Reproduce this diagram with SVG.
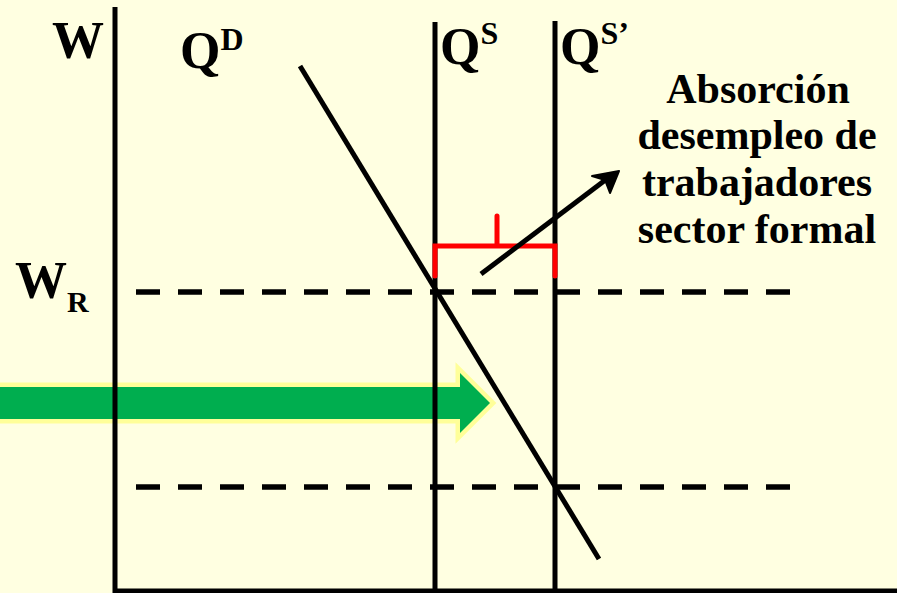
<svg xmlns="http://www.w3.org/2000/svg" width="897" height="593" viewBox="0 0 897 593">
<defs>
<style>
.ln{stroke:#000;stroke-width:5;fill:none}
.dash{stroke:#000;stroke-width:5.5;stroke-dasharray:24 18;fill:none}
.big{font-family:"Liberation Serif","Times New Roman",serif;font-weight:bold;fill:#000}
.lab{font-family:"Liberation Serif","Times New Roman",serif;font-weight:bold;font-size:42px;fill:#000;text-anchor:middle}
</style>
</defs>
<rect width="897" height="593" fill="#FFFFE1"/>
<g id="flow-arrow">
<polygon points="0,387 460,387 460,373 490,403 460,433 460,419 0,419" fill="#00AE4F" stroke="#FFFF99" stroke-width="9" stroke-linejoin="miter"/>
<polygon points="0,387 460,387 460,373 490,403 460,433 460,419 0,419" fill="#00AE4F"/>
</g>
<g id="connectors">
<line class="dash" x1="136" y1="292" x2="790" y2="292"/>
<line class="dash" x1="136" y1="487" x2="790" y2="487"/>
<line class="ln" x1="115" y1="7" x2="115" y2="593"/>
<line class="ln" x1="113" y1="591" x2="897" y2="591"/>
<line class="ln" x1="435" y1="22" x2="435" y2="593"/>
<line class="ln" x1="555" y1="21" x2="555" y2="593"/>
<line class="ln" x1="300" y1="66" x2="599" y2="559"/>
<path d="M435,276 V246 H555 V276 M497,246 V216" stroke="#FF0000" stroke-width="5" fill="none" stroke-linecap="round" stroke-linejoin="miter"/>
<line class="ln" x1="481" y1="274" x2="608" y2="178"/>
<polygon points="619,171 592,176 605,180 610,193" fill="#000" stroke="#000" stroke-width="2" stroke-linejoin="round"/>
</g>
<g id="label-W"><text class="big" x="52" y="58" font-size="52">W</text></g>
<g id="label-QD"><text class="big" x="180" y="68" font-size="52">Q<tspan font-size="32" dy="-18">D</tspan></text></g>
<g id="label-QS"><text class="big" x="440" y="64" font-size="52">Q<tspan font-size="32" dy="-20">S</tspan></text></g>
<g id="label-QS2"><text class="big" x="560" y="64" font-size="52">Q<tspan font-size="32" dy="-20">S’</tspan></text></g>
<g id="label-WR"><text class="big" x="15" y="298" font-size="52">W<tspan font-size="30" dy="14">R</tspan></text></g>
<g id="label-absorcion">
<text class="lab" x="758" y="103">Absorción</text>
<text class="lab" x="757" y="149">desempleo de</text>
<text class="lab" x="757" y="196">trabajadores</text>
<text class="lab" x="757" y="243">sector formal</text>
</g>
</svg>
